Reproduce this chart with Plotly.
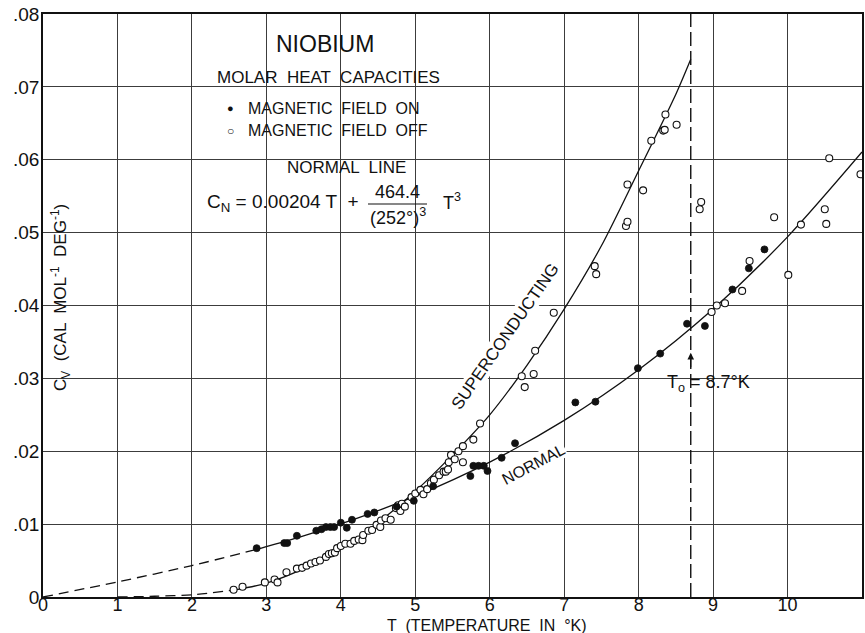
import plotly.graph_objects as go

# ---------------- data ----------------
NORMAL_DASH_T = [0.0, 1.0, 2.0, 2.9]
NORMAL_DASH_C = [0.0, 0.00207, 0.00431, 0.00662]
NORMAL_T = [2.9, 3.5, 4.0, 5.0, 6.0, 7.0, 8.0, 9.0, 10.0, 11.0]
NORMAL_C = [0.00662, 0.00838, 0.01002, 0.01383, 0.01851, 0.02423, 0.03118, 0.03951, 0.04942, 0.06106]

SUPER_DASH_T = [1.0, 1.5, 2.0, 2.6]
SUPER_DASH_C = [0.0, 0.0001, 0.0003, 0.0010]
SUPER_T = [2.6, 3.0, 3.5, 4.0, 4.5, 5.0, 5.5, 6.0, 6.5, 7.0, 7.5, 8.0, 8.5, 8.7]
SUPER_C = [0.0010, 0.0019, 0.0039, 0.0066, 0.0102, 0.0145, 0.0195, 0.0250, 0.0318,
           0.0395, 0.0482, 0.0585, 0.0690, 0.0738]

TC = 8.7

FIELD_ON_T = [2.87, 3.24, 3.28, 3.41, 3.67, 3.74, 3.80, 3.86, 3.91, 4.00, 4.08, 4.15,
              4.36, 4.45, 4.75, 4.98, 5.24, 5.74, 5.78, 5.85, 5.92, 5.97, 6.16, 6.34,
              7.15, 7.42, 7.99, 8.29, 8.65, 8.89, 9.26, 9.48, 9.69]
FIELD_ON_C = [0.0067, 0.0074, 0.0074, 0.0084, 0.0091, 0.0093, 0.0096, 0.0096, 0.0096,
              0.0102, 0.0095, 0.0106, 0.0114, 0.0116, 0.0124, 0.0132, 0.0152, 0.0166,
              0.0180, 0.0180, 0.0180, 0.0173, 0.0191, 0.0211, 0.0267, 0.0268, 0.0314,
              0.0334, 0.0375, 0.0372, 0.0422, 0.0451, 0.0477]

FIELD_OFF_T = [2.56, 2.68, 2.98, 3.11, 3.15, 3.27, 3.41, 3.48, 3.54, 3.60, 3.66, 3.72,
               3.80, 3.84, 3.88, 3.92, 3.95, 4.00, 4.06, 4.13, 4.18, 4.24, 4.29, 4.30,
               4.37, 4.42, 4.48, 4.53, 4.54, 4.60, 4.67, 4.74, 4.77, 4.80, 4.82, 4.86,
               4.95, 5.00, 5.07, 5.11, 5.16, 5.21, 5.25, 5.32, 5.38, 5.41, 5.44, 5.45,
               5.48, 5.53, 5.58, 5.64, 5.64, 5.78, 5.87, 6.43, 6.47, 6.59, 6.61, 6.86,
               7.41, 7.43, 7.83, 7.85, 7.85, 8.06, 8.17, 8.33, 8.35, 8.36, 8.51, 8.82,
               8.84, 8.98, 9.05, 9.16, 9.39, 9.49, 9.82, 10.01, 10.18, 10.50, 10.52,
               10.56, 10.98]
FIELD_OFF_C = [0.0010, 0.0014, 0.0020, 0.0024, 0.0020, 0.0034, 0.0039, 0.0040, 0.0043,
               0.0046, 0.0048, 0.0050, 0.0055, 0.0059, 0.0060, 0.0061, 0.0067, 0.0070,
               0.0073, 0.0073, 0.0077, 0.0079, 0.0078, 0.0085, 0.0091, 0.0092, 0.0099,
               0.0096, 0.0105, 0.0108, 0.0106, 0.0122, 0.0126, 0.0118, 0.0128, 0.0124,
               0.0137, 0.0142, 0.0147, 0.0141, 0.0148, 0.0156, 0.0161, 0.0167, 0.0172,
               0.0172, 0.0175, 0.0185, 0.0195, 0.0189, 0.0200, 0.0207, 0.0185, 0.0216,
               0.0238, 0.0303, 0.0288, 0.0306, 0.0338, 0.0390, 0.0454, 0.0443, 0.0509,
               0.0515, 0.0566, 0.0558, 0.0626, 0.0640, 0.0641, 0.0662, 0.0648, 0.0532,
               0.0542, 0.0391, 0.0400, 0.0403, 0.0420, 0.0461, 0.0521, 0.0442, 0.0511,
               0.0532, 0.0512, 0.0602, 0.0580]

X_TICKS = list(range(12))
X_TICK_TEXT = ["0", "1", "2", "3", "4", "5", "6", "7", "8", "9", "10", "11"]
Y_TICKS = [0, 0.01, 0.02, 0.03, 0.04, 0.05, 0.06, 0.07, 0.08]
Y_TICK_TEXT = ["0", ".01", ".02", ".03", ".04", ".05", ".06", ".07", ".08"]

# ---------------- layout helpers ----------------
W, H = 865, 633
ML, MR, MT, MB = 43, 3, 14, 36
PW, PH = W - ML - MR, H - MT - MB
FONT = "Liberation Sans"
INK = "#111111"
GRID = "#3c3c3c"


def px(x):
    return (x - ML) / PW


def py(y):
    return (H - MB - y) / PH


fig = go.Figure()

line_style = dict(color=INK, width=1.3, shape="spline", smoothing=0.8)

fig.add_trace(go.Scatter(x=NORMAL_DASH_T, y=NORMAL_DASH_C, mode="lines",
                         line=dict(**line_style, dash="10px,6px")))
fig.add_trace(go.Scatter(x=NORMAL_T, y=NORMAL_C, mode="lines", line=line_style))
fig.add_trace(go.Scatter(x=SUPER_DASH_T, y=SUPER_DASH_C, mode="lines",
                         line=dict(**line_style, dash="10px,6px")))
fig.add_trace(go.Scatter(x=SUPER_T, y=SUPER_C, mode="lines", line=line_style))
fig.add_trace(go.Scatter(x=[TC, TC], y=[Y_TICKS[0], Y_TICKS[-1]], mode="lines",
                         line=dict(color=INK, width=1.4, dash="14px,5px")))

fig.add_trace(go.Scatter(x=FIELD_OFF_T, y=FIELD_OFF_C, mode="markers",
                         marker=dict(size=7, color="white",
                                     line=dict(color=INK, width=1.1))))
fig.add_trace(go.Scatter(x=FIELD_ON_T, y=FIELD_ON_C, mode="markers",
                         marker=dict(size=7, color=INK,
                                     line=dict(color=INK, width=0.8))))

# white patches hiding the grid behind the lettering
def white_rect(x0, x1, y0, y1):
    fig.add_shape(type="rect", xref="paper", yref="paper",
                  x0=px(x0), x1=px(x1), y0=py(y1), y1=py(y0),
                  fillcolor="white", line=dict(width=0), layer="between")

white_rect(267, 412, 30, 58)      # NIOBIUM
white_rect(211, 452, 58, 100)     # molar heat capacities row
white_rect(238, 442, 58, 218)     # legend + formula
white_rect(46, 75, 196, 400)      # y title
white_rect(662, 745, 368, 393)    # Tc label

ann = []


def text(x, y, s, size, xanchor="center", angle=0, bg=None):
    d = dict(x=px(x), y=py(y), xref="paper", yref="paper", text=s,
             showarrow=False, xanchor=xanchor, yanchor="middle",
             font=dict(family=FONT, size=size, color=INK), textangle=angle)
    if bg:
        d.update(bgcolor=bg, borderpad=0)
    ann.append(d)


text(325, 44, "NIOBIUM", 23)
text(328, 77, "MOLAR  HEAT  CAPACITIES", 17)
text(230, 108, "●", 11)
text(230, 131, "○", 12)
text(246, 108, "MAGNETIC  FIELD  ON", 16, xanchor="left")
text(246, 131, "MAGNETIC  FIELD  OFF", 16, xanchor="left")
text(346, 167, "NORMAL  LINE", 17)
text(361, 203, "C<sub>N</sub> = 0.00204 T  +", 19, xanchor="right")
text(397, 192, "464.4", 18)
text(398, 216, "(252°)<sup>3</sup>", 18)
text(441, 202, "T<sup>3</sup>", 18, xanchor="left")
text(505, 336, "SUPERCONDUCTING", 17, angle=-55, bg="white")
text(533, 464, "NORMAL", 16, angle=-28, bg="white")
text(665, 383, "T<sub>o</sub> = 8.7°K", 18, xanchor="left")
text(487, 625, "T  (TEMPERATURE  IN  °K)", 16)
text(60, 298, "C<sub>V</sub>  (CAL  MOL<sup>-1</sup>  DEG<sup>-1</sup>)", 17, angle=-90)

# fraction bar
fig.add_shape(type="line", xref="paper", yref="paper",
              x0=px(368), x1=px(427), y0=py(204), y1=py(204),
              line=dict(color=INK, width=1.2), layer="above")

# arrow marking the transition temperature
ann.append(dict(x=TC, y=0.0335, xref="x", yref="y", ax=0, ay=16, text="",
                showarrow=True, arrowhead=2, arrowsize=1.1, arrowwidth=1.2,
                arrowcolor=INK))

fig.update_layout(
    width=W, height=H,
    margin=dict(l=ML, r=MR, t=MT, b=MB, pad=0, autoexpand=False),
    paper_bgcolor="white", plot_bgcolor="white",
    showlegend=False,
    annotations=ann,
    font=dict(family=FONT, color=INK),
)
fig.update_xaxes(range=[0, 11], tickvals=X_TICKS, ticktext=X_TICK_TEXT,
                 showgrid=True, gridcolor=GRID, gridwidth=1, zeroline=False,
                 showline=True, mirror=True, linecolor=INK, linewidth=1.5,
                 ticks="", ticklen=0, automargin=False, ticklabelstandoff=-9,
                 tickfont=dict(family=FONT, size=18, color=INK))
fig.update_yaxes(range=[0, 0.08], tickvals=Y_TICKS, ticktext=Y_TICK_TEXT,
                 showgrid=True, gridcolor=GRID, gridwidth=1, zeroline=False,
                 showline=True, mirror=True, linecolor=INK, linewidth=1.5,
                 ticks="", ticklen=0, automargin=False, ticklabelstandoff=-2,
                 tickfont=dict(family=FONT, size=19, color=INK))

fig.write_html(
    "out.html",
    config={"displayModeBar": False},
    post_script="document.body.style.margin='0';document.body.style.overflow='hidden';",
)
